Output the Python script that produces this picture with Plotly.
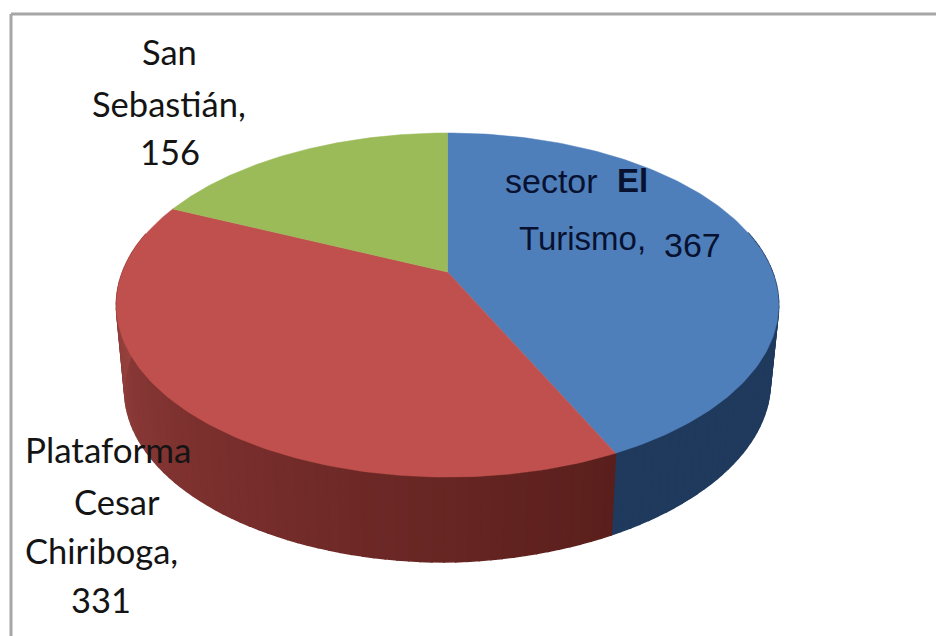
import numpy as np
import plotly.graph_objects as go

# slices, clockwise from 12 o'clock
labels = ["sector El Turismo", "Plataforma Cesar Chiriboga", "San Sebastián"]
values = [367, 331, 156]
top_colors = ["#4f7fba", "#c0504d", "#9bbb59"]
# side wall shading along each slice, clockwise
wall_colors = [
    [(0.0, "#1f3a5d"), (1.0, "#1f3a5d")],
    [(0.0, "#5a1f1c"), (0.45, "#7a2f2d"), (0.8, "#93403d"), (1.0, "#ab4845")],
    [(0.0, "#76923c"), (1.0, "#76923c")],
]

# picture geometry of the tilted disc (pixels)
CX, CY = 447.5, 272
K = 325
S = 165.7
C = 0.192
DEPTH = 85


def project(theta, shrink=1.0, drop=0.0):
    u, v = np.sin(theta), np.cos(theta)
    w = 1 + C * v
    return CX + shrink * K * u / w, CY - S * v / w + drop


def lower_edge(theta):
    # the wall is a little shallower on the right hand side
    return project(theta, 0.975, DEPTH - 8 * max(0.0, np.sin(theta)))


def mix(a, b, t):
    ca = [int(a[i:i + 2], 16) for i in (1, 3, 5)]
    cb = [int(b[i:i + 2], 16) for i in (1, 3, 5)]
    return "rgb(%d,%d,%d)" % tuple(round(x + (y - x) * t) for x, y in zip(ca, cb))


def wall_color(stops, t):
    for (t0, c0), (t1, c1) in zip(stops, stops[1:]):
        if t <= t1:
            return mix(c0, c1, (t - t0) / (t1 - t0))
    return stops[-1][1]


fig = go.Figure()

edges = np.concatenate([[0], np.cumsum(values)]) / sum(values) * 2 * np.pi

# side walls first, the top faces then cover the back half
for i in range(len(values)):
    start, end = edges[i], edges[i + 1]
    n = max(2, int((end - start) / 0.03))
    steps = np.linspace(start, end, n + 1)
    for a, b in zip(steps[:-1], steps[1:]):
        mid = (a + b) / 2
        if np.cos(mid) > 0.25:
            continue
        xa, ya = project(a)
        xb, yb = project(b)
        xa2, ya2 = lower_edge(a)
        xb2, yb2 = lower_edge(b)
        col = wall_color(wall_colors[i], (mid - start) / (end - start))
        fig.add_trace(go.Scatter(
            x=[xa, xb, xb2, xa2, xa], y=[ya, yb, yb2, ya2, ya],
            mode="lines", fill="toself", fillcolor=col,
            line=dict(width=1.5, color=col),
            hoverinfo="skip", showlegend=False))

for i in range(len(values)):
    th = np.linspace(edges[i], edges[i + 1], 160)
    x, y = project(th)
    fig.add_trace(go.Scatter(
        x=np.concatenate([[CX], x, [CX]]), y=np.concatenate([[CY], y, [CY]]),
        mode="lines", fill="toself", fillcolor=top_colors[i],
        line=dict(width=0.5, color=top_colors[i]),
        name=labels[i], hovertemplate="%{fullData.name}<extra></extra>",
        showlegend=False))

FONT = "Lato, Carlito, sans-serif"
DARK = "#141414"
NAVY = "#081230"
ARIAL = "Liberation Sans"
notes = [
    (169, 51, "San", 34.5, DARK, FONT),
    (169, 103, "Sebastián,", 34.5, DARK, FONT),
    (170, 151, "156", 34.5, DARK, FONT),
    (108, 449, "Plataforma", 35, DARK, FONT),
    (117, 501, "Cesar", 34.5, DARK, FONT),
    (101, 550, "Chiriboga,", 34.5, DARK, FONT),
    (101, 599, "331", 34.5, DARK, FONT),
    (551, 181, "sector", 34, NAVY, ARIAL),
    (632, 180, "<b>El</b>", 33, NAVY, ARIAL),
    (582, 238, "Turismo,", 33, NAVY, ARIAL),
    (692, 245, "367", 34, NAVY, ARIAL),
]
for x, y, text, size, color, family in notes:
    fig.add_annotation(x=x, y=y, text=text, showarrow=False, xanchor="center", yanchor="middle",
                       font=dict(size=size, color=color, family=family))

# picture frame
frame = dict(type="line", line=dict(color="#a6a6a6", width=3), layer="above")
fig.add_shape(x0=11, x1=11, y0=14, y1=636, **frame)
fig.add_shape(x0=11, x1=936, y0=14, y1=14, **frame)

fig.update_xaxes(range=[0, 936], visible=False)
fig.update_yaxes(range=[636, 0], visible=False)
fig.update_layout(width=936, height=636, margin=dict(l=0, r=0, t=0, b=0),
                  paper_bgcolor="white", plot_bgcolor="white")
fig.write_html("out.html", config={"displayModeBar": False},
               post_script="document.body.style.margin='0';")
